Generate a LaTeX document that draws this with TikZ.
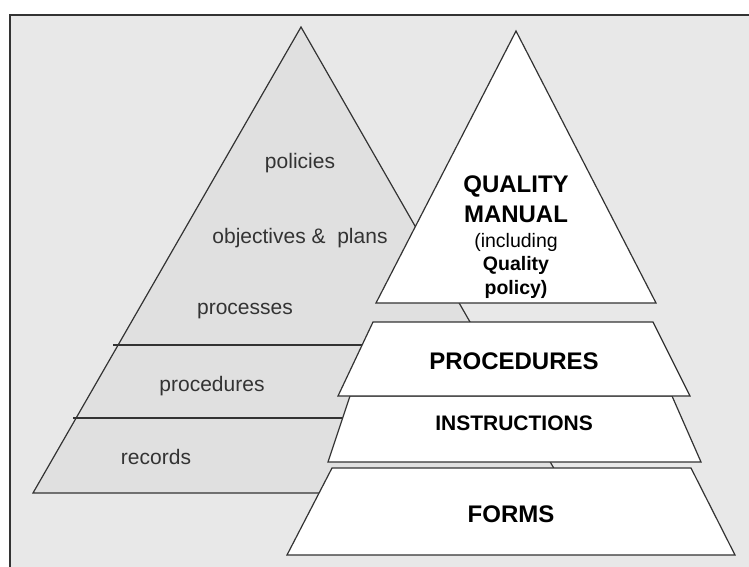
\documentclass[tikz,border=0pt]{standalone}
\usepackage{fontspec}
\setmainfont{Liberation Sans}
\definecolor{bggray}{HTML}{E8E8E8}
\definecolor{pyrgray}{HTML}{E0E0E0}
\definecolor{inkgray}{HTML}{333333}
\begin{document}
\begin{tikzpicture}[x=1pt, y=-1pt,
		edge/.style={draw=inkgray, line width=1.2pt, line join=miter},
		layer/.style={edge, fill=white},
		lowtext/.style={anchor=base, text=inkgray, font=\fontsize{21}{24}\selectfont},
		captext/.style={anchor=base, text=black, font=\fontsize{24}{28}\selectfont\bfseries},
		subtext/.style={anchor=base, text=black, font=\fontsize{19.5}{22}\selectfont}]
		\useasboundingbox (0,0) rectangle (749,567);
		\pgfmathsetmacro{\PX}{516}
		
		\fill[bggray] (10,15) rectangle (749,567);
		\draw[edge, line width=1.6pt] (10,567) -- (10,15) -- (749,15);
		
		\coordinate (LA) at (301,27);
		\coordinate (LL) at (33,493);
		\coordinate (LR) at (568,493);
		\fill[pyrgray] (LA) -- (LL) -- (LR) -- cycle;
		\draw[edge] (LA) -- (LL) -- (LR) -- cycle;
		\draw[edge] (113,345) -- (560,345);
		\draw[edge] (73,418) -- (560,418);
		
		\node[lowtext] (policies) at (300,168) {policies};
		\node[lowtext] (objplans) at (300,243) {objectives \& \ plans};
		\node[lowtext] (processes) at (245,314) {processes};
		\node[lowtext] (procL) at (212,391) {procedures};
		\node[lowtext] (records) at (156,464) {records};
		
		\draw[layer] (\PX,31) -- (656,303) -- (376,303) -- cycle;
		\draw[layer] (350,396) -- (672,396) -- (701,462) -- (328,462) -- cycle;
		\draw[layer] (373,322) -- (653,322) -- (690,396) -- (338,396) -- cycle;
		\draw[layer] (332,468) -- (691,468) -- (735,555) -- (287,555) -- cycle;
		
		\node[captext] (quality) at (\PX,192) {QUALITY};
		\node[captext] (manual) at (\PX,222) {MANUAL};
		\node[subtext] (incl) at (\PX,247) {(including};
		\node[subtext, font=\fontsize{19.5}{22}\selectfont\bfseries] (qpol) at (\PX,270) {Quality};
		\node[subtext, font=\fontsize{19.5}{22}\selectfont\bfseries] (pol) at (\PX,294) {policy)};
		\node[captext] (procR) at (514,369) {PROCEDURES};
		\node[captext, font=\fontsize{21}{24}\selectfont\bfseries] (instr) at (514,430) {INSTRUCTIONS};
		\node[captext] (forms) at (511,522) {FORMS};
		\end{tikzpicture}
\end{document}
